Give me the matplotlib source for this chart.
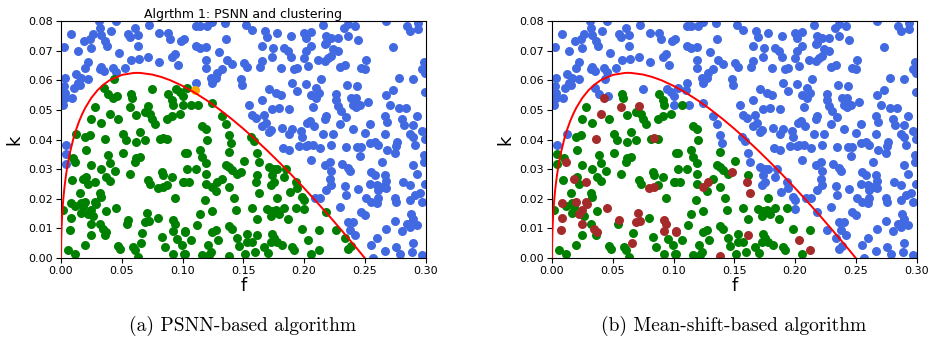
import numpy as np
import matplotlib
matplotlib.use("Agg")
import matplotlib.pyplot as plt

# ---------------- data (f, k) ----------------
# blue in both panels (outside the boundary)
outside = [
    (0.031,0.080),(0.045,0.080),(0.0085,0.0755),(0.026,0.0755),(0.0242,0.0738),(0.019,0.0732),
    (0.032,0.0775),(0.033,0.0753),(0.036,0.0732),(0.038,0.0716),(0.041,0.0766),(0.055,0.0755),
    (0.0565,0.0745),(0.061,0.0775),(0.063,0.0753),(0.0723,0.0786),(0.081,0.076),(0.088,0.076),
    (0.090,0.074),(0.099,0.0732),(0.0025,0.0712),(0.014,0.0699),(0.0245,0.0708),(0.048,0.0693),
    (0.0635,0.0715),(0.094,0.069),(0.091,0.068),(0.0575,0.067),(0.064,0.0673),(0.072,0.068),
    (0.0965,0.0653),(0.081,0.066),(0.022,0.066),(0.0195,0.0642),(0.033,0.0645),(0.032,0.0637),
    (0.0355,0.063),(0.043,0.0642),(0.045,0.0629),(0.0525,0.064),(0.0126,0.062),(0.0167,0.0609),
    (0.022,0.0605),(0.014,0.0592),(0.016,0.0584),(0.011,0.0575),(0.003,0.0609),(0.0025,0.058),
    (0.003,0.0558),(0.003,0.054),(0.009,0.054),(0.0016,0.0516),(0.0044,0.0381),
    (0.1107,0.0783),(0.1148,0.0783),(0.1203,0.0783),(0.1245,0.0798),(0.1349,0.0794),(0.1525,0.0786),
    (0.1575,0.0768),(0.1679,0.0766),(0.1781,0.0761),(0.1891,0.0749),(0.2001,0.0761),(0.1011,0.0738),
    (0.1107,0.0715),(0.1148,0.0708),(0.1190,0.0712),(0.1360,0.0738),(0.1652,0.0715),(0.1698,0.0746),
    (0.1745,0.0710),(0.1836,0.0710),(0.1872,0.0699),(0.1891,0.0678),(0.1300,0.0696),(0.1190,0.0670),
    (0.1369,0.0670),(0.1740,0.0678),(0.2001,0.0676),(0.1506,0.0659),(0.1533,0.0645),(0.1657,0.0665),
    (0.1635,0.0645),(0.1195,0.0640),(0.1327,0.0637),(0.1286,0.0625),(0.1410,0.0654),(0.1231,0.0609),
    (0.1245,0.0592),(0.1272,0.0606),(0.1478,0.0603),(0.1487,0.0584),(0.1808,0.0640),(0.1918,0.0637),
    (0.1946,0.0642),(0.1107,0.0592),(0.1712,0.0569),(0.1767,0.0558),(0.1808,0.0550),(0.1905,0.0592),
    (0.1946,0.0563),(0.1657,0.0535),(0.1547,0.0518),(0.1795,0.0507),(0.1740,0.0502),(0.1877,0.0502),
    (0.1575,0.0483),(0.1602,0.0473),(0.1671,0.0483),(0.1652,0.0445),(0.1684,0.0457),(0.1726,0.0431),
    (0.1822,0.0440),(0.1905,0.0434),(0.2028,0.0457),(0.1973,0.0428),
    (0.2157,0.0786),(0.2060,0.0764),(0.2327,0.0777),(0.2363,0.0789),(0.2418,0.0783),(0.2679,0.0800),
    (0.2844,0.0783),(0.2872,0.0766),(0.2940,0.0794),(0.2940,0.0772),(0.2184,0.0749),(0.2225,0.0744),
    (0.2280,0.0741),(0.2363,0.0749),(0.2445,0.0736),(0.2019,0.0741),(0.2060,0.0715),(0.2019,0.0699),
    (0.2170,0.0721),(0.2184,0.0727),(0.2239,0.0704),(0.2280,0.0699),(0.2729,0.0712),(0.2033,0.0648),
    (0.2115,0.0667),(0.2170,0.0665),(0.2198,0.0674),(0.2225,0.0682),(0.2294,0.0645),(0.2335,0.0651),
    (0.2514,0.0667),(0.2473,0.0642),(0.2500,0.0637),(0.2987,0.0663),(0.2968,0.0637),(0.2995,0.0625),
    (0.2784,0.0609),(0.2899,0.0603),(0.2143,0.0603),(0.2019,0.0586),(0.2355,0.0584),(0.2437,0.0580),
    (0.2102,0.0573),(0.2124,0.0558),(0.2060,0.0550),(0.2096,0.0541),(0.2267,0.0555),(0.2267,0.0532),
    (0.2679,0.0550),(0.2734,0.0566),(0.2995,0.0561),(0.2390,0.0539),(0.2431,0.0539),(0.2404,0.0516),
    (0.2459,0.0516),(0.2431,0.0509),(0.2528,0.0527),(0.2280,0.0513),(0.2308,0.0496),(0.2074,0.0509),
    (0.2706,0.0516),(0.2784,0.0505),(0.2839,0.0507),(0.2349,0.0476),(0.2184,0.0479),(0.2170,0.0468),
    (0.2047,0.0462),(0.2079,0.0445),(0.2294,0.0451),(0.2404,0.0434),(0.2542,0.0451),(0.2665,0.0479),
    (0.2684,0.0460),(0.2803,0.0468),(0.2822,0.0449),(0.2927,0.0479),(0.2899,0.0449),(0.2968,0.0428),
    (0.2157,0.0417),(0.2239,0.0419),(0.2500,0.0423),(0.2665,0.0417),(0.2872,0.0417),
    (0.1712,0.0426),(0.1877,0.0420),(0.1987,0.0409),(0.2020,0.0379),(0.1960,0.0379),(0.1828,0.0370),
    (0.1877,0.0364),
    (0.2899,0.0409),(0.2995,0.0401),(0.2033,0.0381),(0.2074,0.0383),(0.2129,0.0370),(0.2225,0.0383),
    (0.2343,0.0375),(0.2437,0.0375),(0.2473,0.0375),(0.2459,0.0345),(0.2542,0.0387),(0.2583,0.0392),
    (0.2610,0.0383),(0.2684,0.0364),(0.2748,0.0353),(0.2767,0.0392),(0.2756,0.0379),(0.2913,0.0383),
    (0.2987,0.0347),(0.2987,0.0325),(0.2060,0.0330),(0.2170,0.0313),(0.2217,0.0325),(0.2225,0.0293),
    (0.2212,0.0268),(0.2316,0.0316),(0.2363,0.0304),(0.2376,0.0293),(0.2646,0.0325),(0.2899,0.0313),
    (0.2927,0.0282),(0.2555,0.0291),(0.2583,0.0280),(0.2665,0.0280),(0.2673,0.0259),(0.2542,0.0251),
    (0.2597,0.0246),(0.2610,0.0229),(0.2638,0.0240),(0.2679,0.0235),(0.2817,0.0257),(0.2872,0.0246),
    (0.2995,0.0251),(0.2184,0.0229),(0.2225,0.0246),(0.2335,0.0244),(0.2445,0.0232),(0.2349,0.0212),
    (0.2954,0.0218),(0.2913,0.0214),(0.2514,0.0201),(0.2555,0.0190),(0.2597,0.0184),(0.2610,0.0201),
    (0.2748,0.0201),(0.2761,0.0190),(0.2872,0.0195),(0.2968,0.0190),(0.2088,0.0201),(0.2129,0.0203),
    (0.2294,0.0173),(0.2473,0.0156),(0.2500,0.0145),(0.2363,0.0122),(0.2404,0.0120),(0.2376,0.0094),
    (0.2418,0.0077),(0.2673,0.0099),(0.2748,0.0124),(0.2803,0.0090),(0.2844,0.0116),(0.2872,0.0105),
    (0.2885,0.0122),(0.2899,0.0133),(0.2877,0.0150),(0.2927,0.0111),(0.2602,0.0066),(0.2555,0.0043),
    (0.2665,0.0023),(0.2761,0.0038),(0.2789,0.0012),(0.2899,0.0049),(0.2885,0.0021),(0.2968,0.0010),
    (0.2569,0.0001),
]

# green in both panels
green_green = [
    (0.058,0.0552),(0.0585,0.054),(0.088,0.0552),(0.091,0.0535),(0.0924,0.0518),(0.0277,0.051),
    (0.069,0.0494),(0.073,0.0485),(0.075,0.0468),(0.077,0.0453),(0.062,0.0483),(0.047,0.047),
    (0.0333,0.0457),(0.025,0.0468),(0.098,0.0485),(0.0915,0.048),(0.087,0.0468),
    (0.0195,0.0409),(0.0236,0.0415),(0.0511,0.0420),(0.0649,0.0426),(0.0539,0.0398),(0.0621,0.0392),
    (0.0690,0.0398),(0.0814,0.0403),(0.0869,0.0401),(0.1020,0.0353),(0.0099,0.0336),(0.0209,0.0364),
    (0.0388,0.0349),(0.0401,0.0319),(0.0511,0.0353),(0.0621,0.0336),(0.0649,0.0342),(0.0608,0.0325),
    (0.0250,0.0313),(0.0333,0.0302),(0.0443,0.0293),(0.0566,0.0285),(0.0828,0.0291),(0.0841,0.0280),
    (0.0910,0.0274),(0.1006,0.0257),(0.0091,0.0263),(0.0209,0.0274),(0.0223,0.0251),(0.0374,0.0274),
    (0.0401,0.0259),(0.0718,0.0263),(0.0731,0.0251),(0.0869,0.0246),(0.0154,0.0221),(0.0319,0.0218),
    (0.0333,0.0206),(0.0938,0.0203),(0.0113,0.0176),(0.0168,0.0184),(0.0181,0.0173),(0.0264,0.0142),
    (0.0374,0.0158),(0.0016,0.0161),(0.0162,0.0153),(0.0319,0.0116),(0.0360,0.0077),(0.0547,0.0116),
    (0.0800,0.0136),(0.0250,0.0077),(0.0663,0.0086),(0.0828,0.0071),(0.0951,0.0063),(0.0195,0.0043),
    (0.0470,0.0041),(0.0484,0.0032),(0.0594,0.0038),(0.0608,0.0026),(0.0855,0.0038),(0.0993,0.0043),
    (0.0058,0.0026),(0.0113,0.0015),(0.0635,0.0004),(0.0924,0.0012),(0.1020,0.0015),
    (0.1066,0.0518),(0.1162,0.0445),(0.1190,0.0434),
    (0.1203,0.0398),(0.1382,0.0358),(0.1038,0.0353),(0.1148,0.0364),(0.1162,0.0342),(0.1506,0.0327),
    (0.1190,0.0319),(0.1038,0.0302),(0.1107,0.0302),(0.1355,0.0313),(0.1382,0.0308),(0.1410,0.0296),
    (0.1190,0.0282),(0.1451,0.0285),(0.1616,0.0280),(0.1011,0.0257),(0.1052,0.0255),(0.1190,0.0251),
    (0.1272,0.0226),(0.1327,0.0266),(0.1382,0.0240),(0.1423,0.0203),(0.1781,0.0203),(0.1184,0.0195),
    (0.1575,0.0169),(0.1698,0.0167),(0.1740,0.0158),(0.1767,0.0161),(0.1795,0.0150),(0.1836,0.0169),
    (0.1726,0.0142),(0.1932,0.0169),(0.1437,0.0161),(0.1239,0.0158),(0.1140,0.0147),(0.1616,0.0131),
    (0.1872,0.0131),(0.1121,0.0111),(0.1382,0.0108),(0.1410,0.0099),(0.1987,0.0097),(0.1245,0.0088),
    (0.1272,0.0094),(0.1533,0.0082),(0.1740,0.0082),(0.1753,0.0066),(0.1726,0.0055),(0.1781,0.0055),
    (0.1822,0.0043),(0.1451,0.0068),(0.1465,0.0041),(0.1066,0.0060),(0.1294,0.0060),(0.1533,0.0055),
    (0.1575,0.0055),(0.1212,0.0043),(0.1671,0.0038),(0.1905,0.0038),(0.1918,0.0026),(0.1231,0.0021),
    (0.1217,0.0010),(0.1162,0.0010),(0.1514,0.0015),(0.1596,0.0021),(0.1706,0.0018),(0.1011,0.0015),
    (0.2120,0.0094),(0.2060,0.0015),
]

# green in panel (a), brown in panel (b)
green_red = [
    (0.0428,0.0540),(0.0400,0.0487),(0.0712,0.0513),(0.0570,0.0509),
    (0.0360,0.0403),(0.0841,0.0404),(0.0113,0.0325),(0.0181,0.0268),(0.0278,0.0257),(0.0800,0.0235),
    (0.0841,0.0240),(0.0085,0.0187),(0.0195,0.0190),(0.0278,0.0190),(0.0291,0.0181),(0.0250,0.0161),
    (0.0223,0.0150),(0.0456,0.0169),(0.0080,0.0135),(0.0250,0.0116),(0.0346,0.0099),(0.0374,0.0088),
    (0.0553,0.0128),(0.0690,0.0122),(0.0704,0.0153),(0.0723,0.0124),(0.0924,0.0128),(0.0938,0.0116),
    (0.0924,0.0090),(0.1020,0.0090),(0.0071,0.0094),(0.0660,0.0052),
    (0.1478,0.0291),(0.1286,0.0257),(0.1245,0.0240),(0.1602,0.0257),(0.1630,0.0218),(0.1024,0.0088),
    (0.1616,0.0077),(0.1382,0.0007),(0.2033,0.0060),(0.2124,0.0026),
]

# green in panel (a), blue in panel (b)
green_blue = [
    (0.0440,0.0603),(0.0355,0.0575),(0.0388,0.0555),(0.0460,0.0548),(0.0745,0.0570),(0.0950,0.0570),
    (0.0980,0.0560),(0.1000,0.0547),(0.1006,0.0518),(0.1038,0.0575),(0.1129,0.0518),(0.1245,0.0524),
    (0.1327,0.0479),(0.1355,0.0451),(0.0126,0.0420),
    (0.1382,0.0415),(0.1396,0.0387),(0.1561,0.0409),(0.1588,0.0394),(0.1616,0.0353),(0.1630,0.0325),
    (0.1712,0.0308),(0.1753,0.0302),(0.1781,0.0302),(0.1850,0.0302),(0.1740,0.0280),(0.1753,0.0257),
    (0.1836,0.0274),(0.1726,0.0248),(0.1932,0.0257),(0.1946,0.0235),(0.1882,0.0223),(0.1987,0.0206),
    (0.2001,0.0195),(0.2001,0.0167),(0.2184,0.0156),(0.2267,0.0094),(0.2335,0.0068),(0.2363,0.0032),
    (0.2390,0.0040),
]

# blue in panel (a), green in panel (b)
blue_green = [(0.0044,0.0351),(0.0044,0.0316)]

# orange in panel (a), blue in panel (b)
orange_blue = [(0.1102,0.0566)]

# boundary curve points (f, k)
curve_f = [0.0, 0.0001, 0.00025, 0.0005, 0.001, 0.0015, 0.002, 0.0025, 0.003, 0.004, 0.005,
           0.0065, 0.0075, 0.01, 0.0125, 0.015, 0.0175, 0.02, 0.025, 0.03, 0.035, 0.04, 0.05,
           0.06, 0.0625, 0.065, 0.075, 0.0825, 0.09, 0.1, 0.11, 0.12, 0.13, 0.14, 0.15, 0.16,
           0.17, 0.18, 0.19, 0.2, 0.21, 0.22, 0.23, 0.24, 0.245, 0.25]
curve_k = [0.0, 0.0049, 0.00766, 0.01068, 0.01481, 0.01786, 0.02036, 0.0225, 0.02439, 0.02762,
           0.03036, 0.03381, 0.0358, 0.04, 0.0434, 0.04624, 0.04864, 0.05071, 0.05406, 0.0566,
           0.05854, 0.06, 0.0618, 0.06247, 0.0625, 0.06248, 0.06193, 0.06111, 0.06, 0.05811,
           0.05583, 0.05321, 0.05028, 0.04708, 0.04365, 0.04, 0.03616, 0.03213, 0.02794, 0.02361,
           0.01913, 0.01452, 0.00979, 0.00495, 0.00249, 0.0]

x_ticks = [0.00, 0.05, 0.10, 0.15, 0.20, 0.25, 0.30]
y_ticks = [0.00, 0.01, 0.02, 0.03, 0.04, 0.05, 0.06, 0.07, 0.08]
title_a = "Algrthm 1: PSNN and clustering"
caption_a = "(a) PSNN-based algorithm"
caption_b = "(b) Mean-shift-based algorithm"

BLUE = "#4169E1"
GREEN = "#008000"
BROWN = "#A52A2A"
ORANGE = "#FFA500"

fig = plt.figure(figsize=(9.3, 3.43), dpi=100)
W, H = 930.0, 343.0
ax_a = fig.add_axes([61 / W, 85 / H, 364.5 / W, 237 / H])
ax_b = fig.add_axes([552 / W, 85 / H, 364.5 / W, 237 / H])


def scatter(ax, pts, color):
    arr = np.array(pts)
    ax.scatter(arr[:, 0], arr[:, 1], s=42, c=color, linewidths=0, zorder=2)


def style(ax):
    ax.plot(curve_f, curve_k, color="red", lw=1.4, zorder=3)
    ax.set_xlim(0, 0.30)
    ax.set_ylim(0, 0.08)
    ax.set_xticks(x_ticks)
    ax.set_yticks(y_ticks)
    ax.set_xticklabels([f"{v:.2f}" for v in x_ticks], fontsize=8)
    ax.set_yticklabels([f"{v:.2f}" for v in y_ticks], fontsize=8)
    ax.tick_params(length=3.5, width=0.8, pad=2)
    ax.set_xlabel("f", fontsize=13, labelpad=1)
    ax.set_ylabel("k", fontsize=13, labelpad=4)


# panel (a)
scatter(ax_a, outside, BLUE)
scatter(ax_a, blue_green, BLUE)
scatter(ax_a, green_green, GREEN)
scatter(ax_a, green_red, GREEN)
scatter(ax_a, green_blue, GREEN)
scatter(ax_a, orange_blue, ORANGE)
style(ax_a)
ax_a.set_title(title_a, fontsize=9, pad=2)

# panel (b)
scatter(ax_b, outside, BLUE)
scatter(ax_b, green_blue, BLUE)
scatter(ax_b, orange_blue, BLUE)
scatter(ax_b, green_green, GREEN)
scatter(ax_b, blue_green, GREEN)
scatter(ax_b, green_red, BROWN)
style(ax_b)

cap_kw = dict(fontsize=14, family="cmr10", ha="center", va="center")
fig.text(243 / W, 1 - 326 / H, caption_a, **cap_kw)
fig.text(734 / W, 1 - 326 / H, caption_b, **cap_kw)

fig.savefig("out.png", dpi=100)
